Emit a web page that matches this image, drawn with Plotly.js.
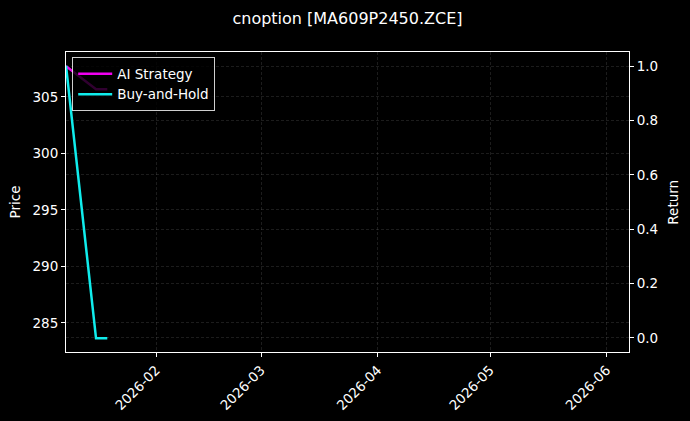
<!DOCTYPE html>
<html>
<head>
<meta charset="utf-8">
<script src="https://cdn.plot.ly/plotly-3.0.1.min.js"></script>
<style>html,body{margin:0;padding:0;background:#000;}#chart{width:690px;height:421px;}</style>
</head>
<body>
<div id="chart"></div>
<script>
// Data
const dates = ['2026-01-08', '2026-01-16', '2026-01-19'];
const aiStrategyReturn = [1.0, 0.915, 0.915];
const buyHoldPrice = [307.77, 283.64, 283.64];
const chartTitle = 'cnoption [MA609P2450.ZCE]';
const xRange = ['2026-01-08', '2026-06-07'];
const priceRange = [282.43, 308.98];
const returnRange = [-0.052, 1.052];

const FONT = 'DejaVu Sans, Liberation Sans, sans-serif';
const gridStyle = {gridcolor: 'rgba(140,140,140,0.4)', griddash: '3px,2px', gridwidth: 0.5};

const traces = [
  {x: dates, y: aiStrategyReturn, name: 'AI Strategy', type: 'scatter', mode: 'lines',
   line: {color: '#f000f0', width: 2.5}, yaxis: 'y'},
  {x: dates, y: buyHoldPrice, name: 'Buy-and-Hold', type: 'scatter', mode: 'lines',
   line: {color: '#10ecec', width: 2.5}, yaxis: 'y2'}
];

const layout = {
  width: 690, height: 421,
  paper_bgcolor: '#000', plot_bgcolor: '#000',
  font: {family: FONT, color: '#fff', size: 13.5},
  margin: {l: 66, r: 61, t: 52, b: 69, pad: 0},
  title: {text: chartTitle, font: {size: 16, color: '#fff', family: FONT},
          x: 0.5, xref: 'paper', y: 0.957, yref: 'container', yanchor: 'middle'},
  showlegend: true,
  legend: {x: 0.011, y: 0.982, xanchor: 'left', yanchor: 'top',
           bgcolor: 'rgba(0,0,0,0.8)', bordercolor: 'rgba(230,230,230,0.9)', borderwidth: 1,
           font: {size: 13.5, color: '#fff', family: FONT}, itemwidth: 34, tracegroupgap: 0},
  xaxis: Object.assign({
    type: 'date', range: xRange, dtick: 'M1', tick0: '2026-01-01', tickformat: '%Y-%m',
    tickangle: -45, showline: true, linecolor: '#fff', linewidth: 1, mirror: true,
    ticks: 'outside', ticklen: 4, tickcolor: '#fff', showgrid: true, zeroline: false,
    tickfont: {size: 13.5, color: '#ffffff'}
  }, gridStyle),
  yaxis: Object.assign({
    range: returnRange, side: 'right', dtick: 0.2, tick0: 0, tickformat: '.1f',
    showline: true, linecolor: '#fff', linewidth: 1, ticks: 'outside', ticklen: 4, tickcolor: '#fff',
    showgrid: true, zeroline: false, tickfont: {size: 13.5, color: '#fff'}
  }, gridStyle),
  yaxis2: Object.assign({
    range: priceRange, side: 'left', overlaying: 'y', dtick: 5, tick0: 0,
    title: {text: 'Price', standoff: 8, font: {size: 13.5, color: '#fff'}},
    showline: true, linecolor: '#fff', linewidth: 1, ticks: 'outside', ticklen: 4, tickcolor: '#fff',
    showgrid: true, zeroline: false, tickfont: {size: 13.5, color: '#fff'}
  }, gridStyle),
  annotations: [
    {text: 'Return', xref: 'paper', yref: 'paper', x: 1.0776, y: 0.5, textangle: -90,
     showarrow: false, xanchor: 'center', yanchor: 'middle', font: {size: 13.5, color: '#fff', family: FONT}}
  ]
};

Plotly.newPlot('chart', traces, layout, {displayModeBar: false, staticPlot: true});
</script>
</body>
</html>
